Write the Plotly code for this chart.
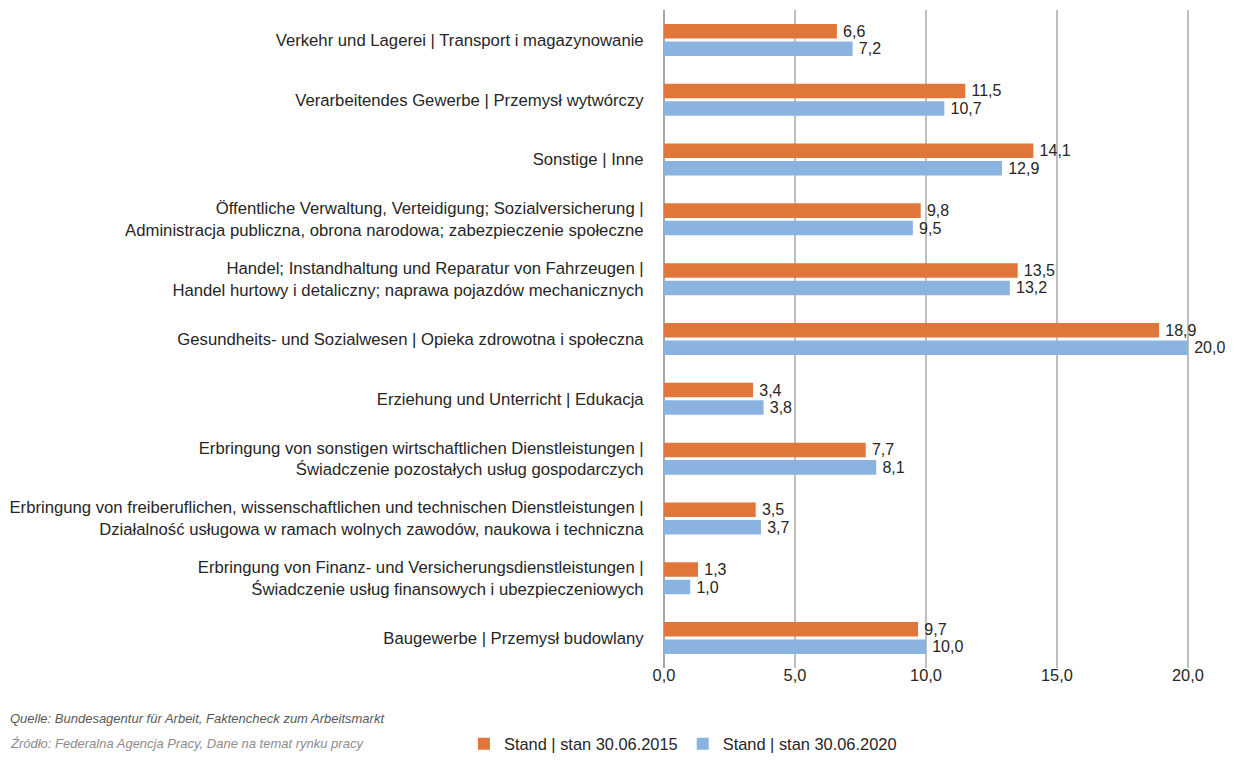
import plotly.graph_objects as go

# Branchen (oben -> unten)
categories = [
    "Verkehr und Lagerei | Transport i magazynowanie",
    "Verarbeitendes Gewerbe | Przemysł wytwórczy",
    "Sonstige | Inne",
    "Öffentliche Verwaltung, Verteidigung; Sozialversicherung |<br>Administracja publiczna, obrona narodowa; zabezpieczenie społeczne",
    "Handel; Instandhaltung und Reparatur von Fahrzeugen |<br>Handel hurtowy i detaliczny; naprawa pojazdów mechanicznych",
    "Gesundheits- und Sozialwesen | Opieka zdrowotna i społeczna",
    "Erziehung und Unterricht | Edukacja",
    "Erbringung von sonstigen wirtschaftlichen Dienstleistungen |<br>Świadczenie pozostałych usług gospodarczych",
    "Erbringung von freiberuflichen, wissenschaftlichen und technischen Dienstleistungen |<br>Działalność usługowa w ramach wolnych zawodów, naukowa i techniczna",
    "Erbringung von Finanz- und Versicherungsdienstleistungen |<br>Świadczenie usług finansowych i ubezpieczeniowych",
    "Baugewerbe | Przemysł budowlany",
]
stand_2015 = [6.6, 11.5, 14.1, 9.8, 13.5, 18.9, 3.4, 7.7, 3.5, 1.3, 9.7]
stand_2020 = [7.2, 10.7, 12.9, 9.5, 13.2, 20.0, 3.8, 8.1, 3.7, 1.0, 10.0]
x_ticks = [0, 5, 10, 15, 20]

series_names = ["Stand | stan 30.06.2015", "Stand | stan 30.06.2020"]
source_lines = [
    "Quelle: Bundesagentur für Arbeit, Faktencheck zum Arbeitsmarkt",
    "Źródło: Federalna Agencja Pracy, Dane na temat rynku pracy",
]

FONT = "Liberation Sans, Arial, sans-serif"
ORANGE = "#E07639"
BLUE = "#8AB3E0"
TEXT = "#262626"
FS = 16.4

fig = go.Figure()

for name, values, color in [
    (series_names[0], stand_2015, ORANGE),
    (series_names[1], stand_2020, BLUE),
]:
    fig.add_trace(
        go.Bar(
            y=categories,
            x=values,
            name=name,
            orientation="h",
            marker=dict(color=color, line=dict(width=0)),
            texttemplate="\u2009%{x:.1f}",
            textposition="outside",
            constraintext="none",
            textfont=dict(size=16, color=TEXT, family=FONT),
            cliponaxis=False,
        )
    )

# Quellenangaben
fig.add_annotation(
    text=source_lines[0], xref="paper", yref="paper",
    x=-1.1529, y=-0.076, xanchor="left", yanchor="middle", showarrow=False,
    font=dict(size=13, color="#595959", family=FONT, style="italic"),
)
fig.add_annotation(
    text=source_lines[1], xref="paper", yref="paper",
    x=-1.1529, y=-0.1155, xanchor="left", yanchor="middle", showarrow=False,
    font=dict(size=13, color="#8C8C8C", family=FONT, style="italic"),
)

fig.update_layout(
    template="none",
    width=1225,
    height=746,
    margin=dict(l=656, r=0, t=2, b=86, autoexpand=False),
    barmode="group",
    bargap=0.415,
    bargroupgap=0.17,
    separators=",.",
    plot_bgcolor="white",
    paper_bgcolor="white",
    font=dict(family=FONT, size=FS, color=TEXT),
    showlegend=True,
    legend=dict(
        orientation="h",
        xref="container",
        yref="container",
        x=0.3722,
        y=0.0134,
        xanchor="left",
        yanchor="middle",
        font=dict(size=FS, color=TEXT),
        itemwidth=30,
        traceorder="normal",
        bgcolor="rgba(0,0,0,0)",
    ),
)

fig.update_xaxes(
    automargin=False,
    range=[0, 21.72],
    tickvals=x_ticks,
    tickformat=".1f",
    showgrid=True,
    gridcolor="#BFBFBF",
    gridwidth=1.5,
    zeroline=True,
    zerolinecolor="#A6A6A6",
    zerolinewidth=2,
    showline=False,
    ticks="",
    ticklabelstandoff=-4,
    tickfont=dict(size=FS, color=TEXT),
)

fig.update_yaxes(
    automargin=False,
    autorange="reversed",
    showgrid=False,
    zeroline=False,
    showline=False,
    ticks="outside",
    ticklen=16,
    tickcolor="rgba(0,0,0,0)",
    tickfont=dict(size=16.7, color=TEXT),
)

fig.write_html("out.html")
